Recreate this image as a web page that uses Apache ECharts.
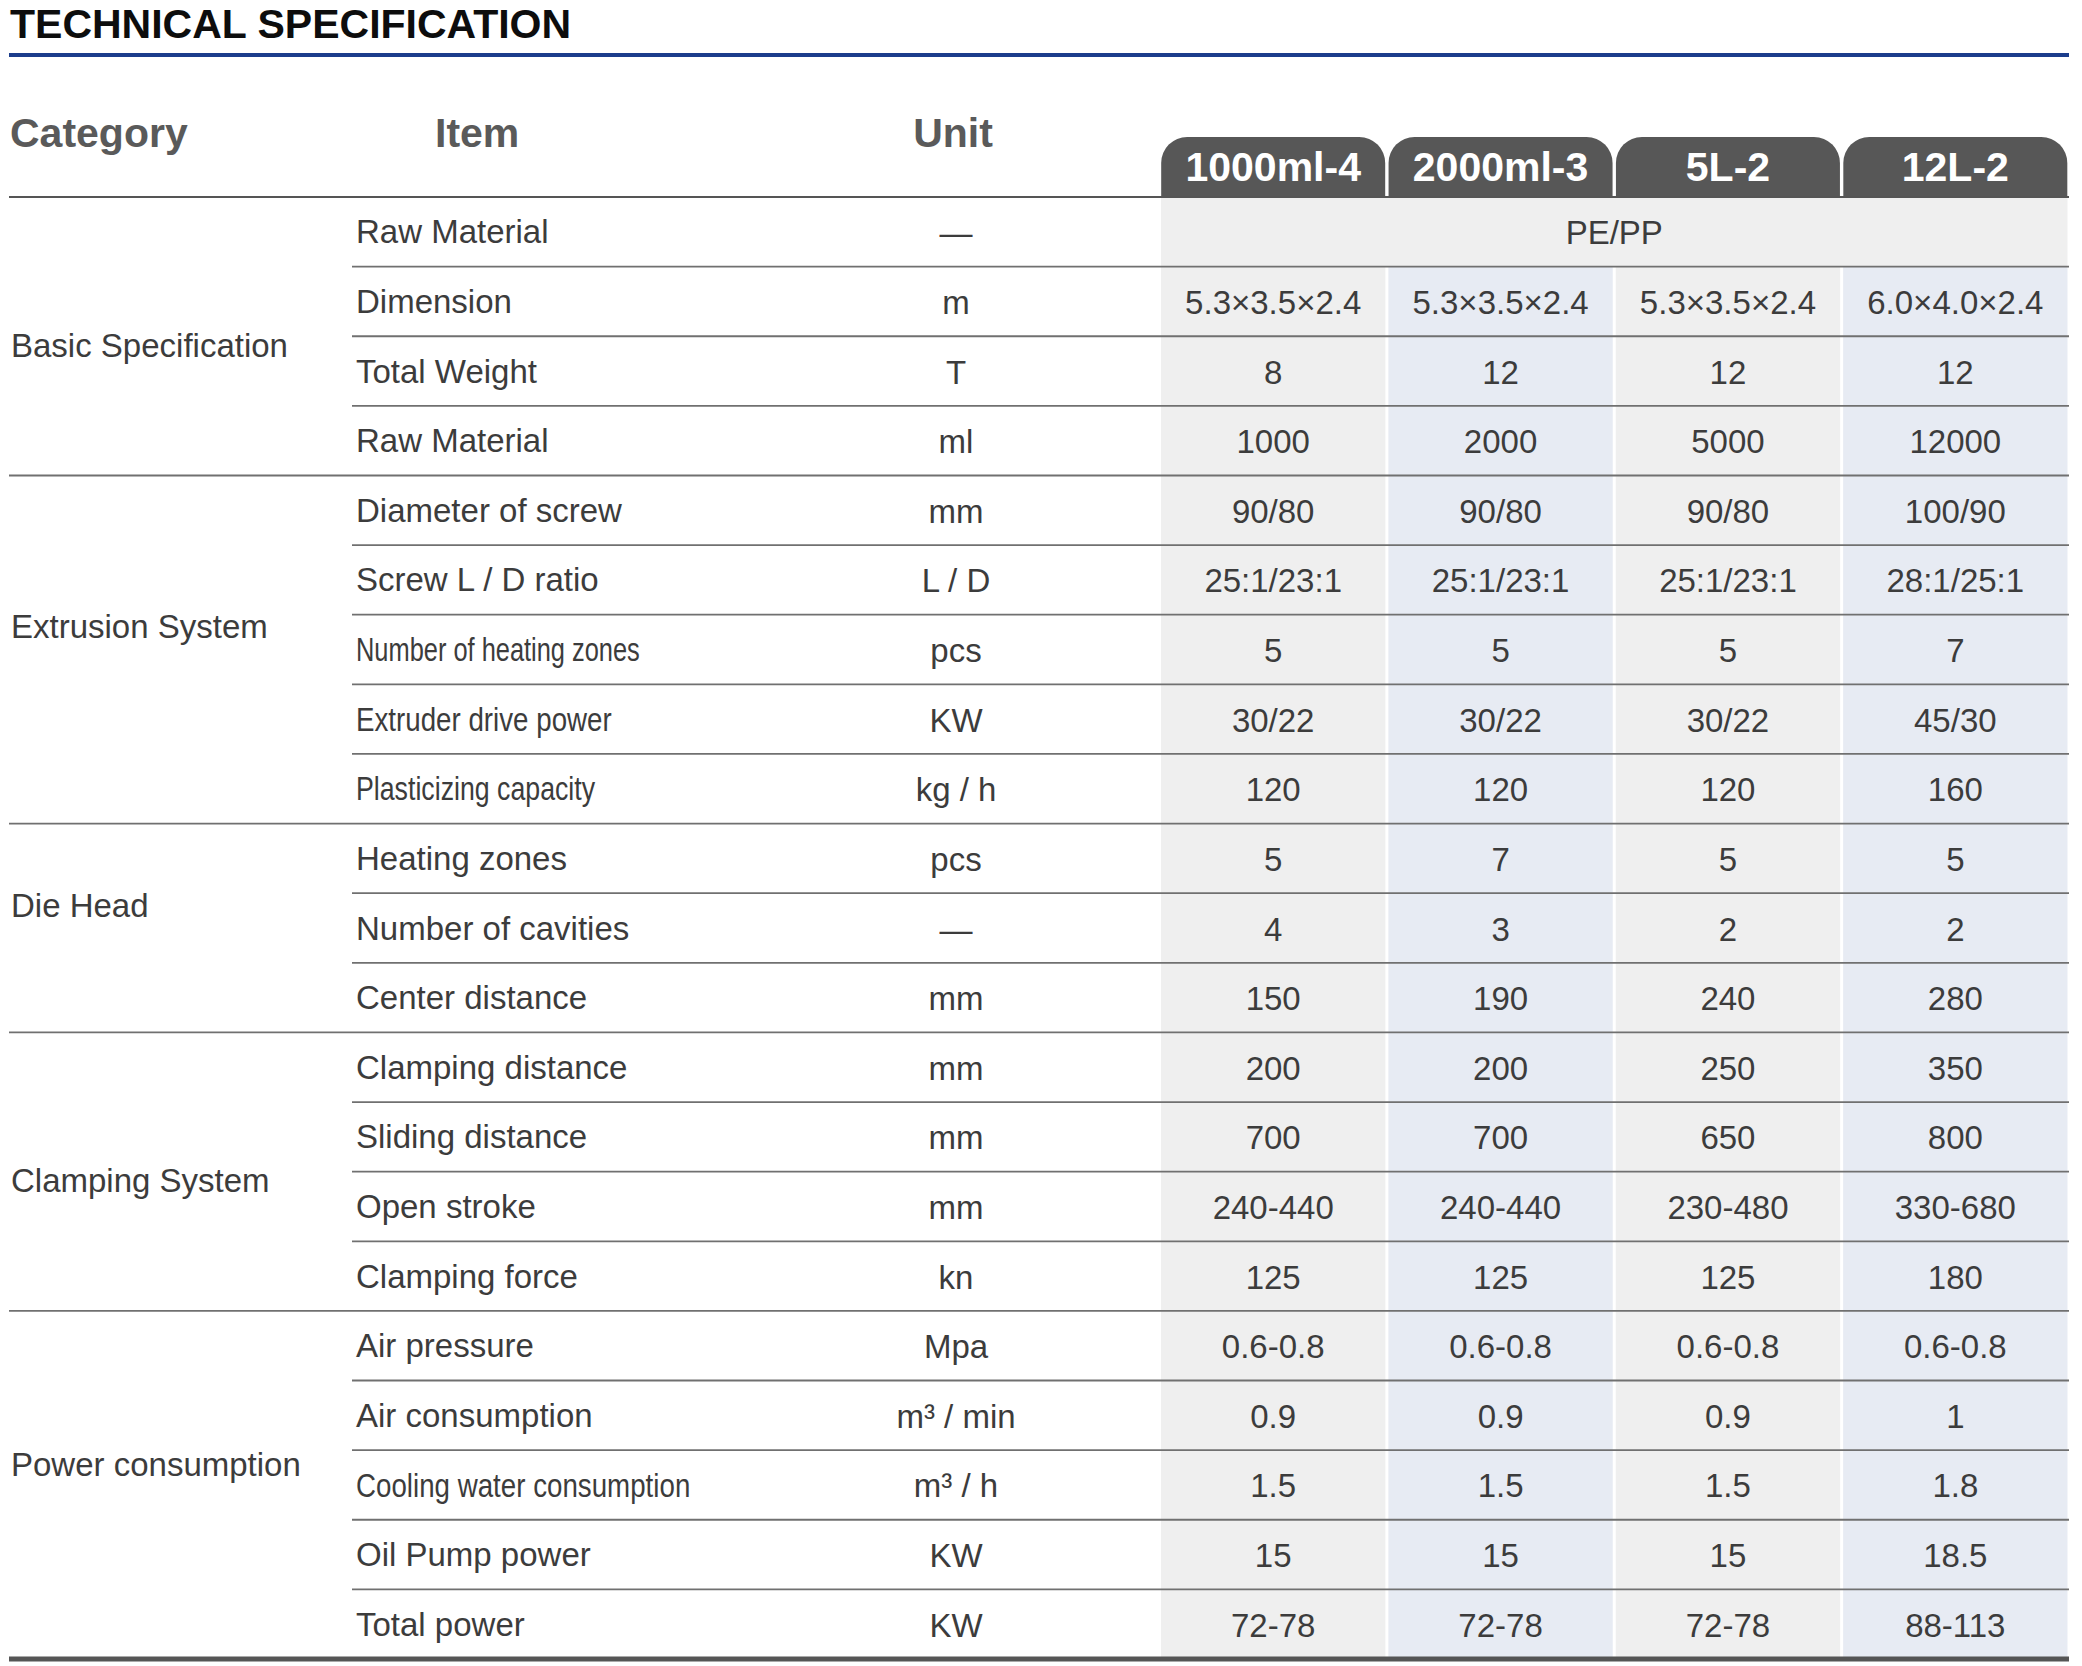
<!DOCTYPE html>
<html><head><meta charset="utf-8">
<script src="https://cdn.jsdelivr.net/npm/echarts@6/dist/echarts.min.js"></script>
<style>html,body{margin:0;padding:0;background:#fff}#main{width:2082px;height:1666px}</style>
</head><body><div id="main"></div>
<script>
// ---------- data ----------
const titleText = 'TECHNICAL SPECIFICATION';
const headerLabels = ['Category', 'Item', 'Unit'];
const models = ['1000ml-4', '2000ml-3', '5L-2', '12L-2'];
const categoryNames = ['Basic Specification', 'Extrusion System', 'Die Head', 'Clamping System', 'Power consumption'];
const categoryRowCounts = [4, 5, 3, 4, 5];
const items = ['Raw Material', 'Dimension', 'Total Weight', 'Raw Material', 'Diameter of screw', 'Screw L / D ratio',
  'Number of heating zones', 'Extruder drive power', 'Plasticizing capacity', 'Heating zones', 'Number of cavities',
  'Center distance', 'Clamping distance', 'Sliding distance', 'Open stroke', 'Clamping force', 'Air pressure',
  'Air consumption', 'Cooling water consumption', 'Oil Pump power', 'Total power'];
const units = ['—', 'm', 'T', 'ml', 'mm', 'L / D', 'pcs', 'KW', 'kg / h', 'pcs', '—', 'mm', 'mm', 'mm', 'mm', 'kn',
  'Mpa', 'm³ / min', 'm³ / h', 'KW', 'KW'];
const sharedRawMaterial = 'PE/PP';
const values1000ml4 = [null, '5.3×3.5×2.4', '8', '1000', '90/80', '25:1/23:1', '5', '30/22', '120', '5', '4', '150', '200', '700', '240-440', '125', '0.6-0.8', '0.9', '1.5', '15', '72-78'];
const values2000ml3 = [null, '5.3×3.5×2.4', '12', '2000', '90/80', '25:1/23:1', '5', '30/22', '120', '7', '3', '190', '200', '700', '240-440', '125', '0.6-0.8', '0.9', '1.5', '15', '72-78'];
const values5L2 = [null, '5.3×3.5×2.4', '12', '5000', '90/80', '25:1/23:1', '5', '30/22', '120', '5', '2', '240', '250', '650', '230-480', '125', '0.6-0.8', '0.9', '1.5', '15', '72-78'];
const values12L2 = [null, '6.0×4.0×2.4', '12', '12000', '100/90', '28:1/25:1', '7', '45/30', '160', '5', '2', '280', '350', '800', '330-680', '180', '0.6-0.8', '1', '1.8', '18.5', '88-113'];

// ---------- layout / style ----------
const FONT = '"Liberation Sans", Arial, Helvetica, sans-serif';
const TABLE_LEFT = 9, TABLE_RIGHT = 2069, ITEM_X = 356, UNIT_CX = 956;
const TEXT_COLOR = '#3c3c3c';
const LINE_COLOR = '#707070';
const BODY_FONT = '33px ' + FONT;
// condensed item labels (horizontal scale)
const narrowItemScale = { 'Number of heating zones': 0.77, 'Extruder drive power': 0.84, 'Plasticizing capacity': 0.81, 'Cooling water consumption': 0.84 };
// vertical nudge (px) of each category label from its group centre
const categoryLabelNudge = [9, -23, -23, 9, -20];

const valueColumns = [values1000ml4, values2000ml3, values5L2, values12L2];
const cellData = [];
for (let r = 0; r < items.length; r++) {
  if (r === 0) { cellData.push([0, r, sharedRawMaterial, models.length]); continue; }
  for (let c = 0; c < models.length; c++) cellData.push([c, r, valueColumns[c][r], 1]);
}
const rowData = items.map((d, i) => [0, i]);
const groupEnds = [];
const groupData = [];
{ let s = 0; categoryRowCounts.forEach((n) => { groupData.push([0, s, n]); s += n; groupEnds.push(s - 1); }); }

const chart = echarts.init(document.getElementById('main'), null, { renderer: 'svg' });

const option = {
  backgroundColor: '#fff',
  animation: false,
  grid: { left: 1159.5, top: 197, width: 909.5, height: 1462 },
  xAxis: {
    type: 'category', data: models, position: 'top',
    axisLine: { show: false }, axisTick: { show: false }, splitLine: { show: false },
    axisLabel: {
      interval: 0, margin: 0, color: '#fff', fontSize: 41, fontWeight: 'bold', fontFamily: FONT,
      backgroundColor: '#575757', borderRadius: [26, 26, 0, 0], width: 224, height: 60, lineHeight: 60,
      padding: 0, align: 'center'
    }
  },
  yAxis: { type: 'category', inverse: true, data: items.map((d, i) => String(i)), show: false },
  graphic: [
    { type: 'text', x: 10, y: 24, style: { text: titleText, font: 'bold 41px ' + FONT, fill: '#0d0d0d', verticalAlign: 'middle', align: 'left' } },
    { type: 'rect', shape: { x: TABLE_LEFT, y: 53, width: TABLE_RIGHT - TABLE_LEFT, height: 4 }, style: { fill: '#1c3d8c' } },
    { type: 'text', x: 10, y: 133, style: { text: headerLabels[0], font: 'bold 41px ' + FONT, fill: '#5a5a5a', verticalAlign: 'middle', align: 'left' } },
    { type: 'text', x: 435, y: 133, style: { text: headerLabels[1], font: 'bold 41px ' + FONT, fill: '#5a5a5a', verticalAlign: 'middle', align: 'left' } },
    { type: 'text', x: UNIT_CX - 3, y: 133, style: { text: headerLabels[2], font: 'bold 41px ' + FONT, fill: '#5a5a5a', verticalAlign: 'middle', align: 'center' } }
  ],
  series: [
    {
      type: 'custom', name: 'cells', data: cellData,
      renderItem: function (params, api) {
        const d = cellData[params.dataIndex];
        const c = d[0], r = d[1], span = d[3];
        const p = api.coord([c, r]);
        const s = api.size([1, 1]);
        const x0 = p[0] - s[0] / 2, y0 = p[1] - s[1] / 2, w = s[0] * span;
        const fill = span > 1 ? '#efefef' : (c % 2 === 0 ? '#efefef' : '#e7ebf3');
        return {
          type: 'group', children: [
            { type: 'rect', shape: { x: x0 + 1.5, y: y0, width: w - 3, height: s[1] }, style: { fill: fill } },
            { type: 'text', x: x0 + w / 2, y: p[1] + 1, style: { text: d[2], font: BODY_FONT, fill: TEXT_COLOR, align: 'center', verticalAlign: 'middle' } }
          ]
        };
      }
    },
    {
      type: 'custom', name: 'rows', data: rowData,
      renderItem: function (params, api) {
        const r = params.dataIndex;
        const p = api.coord([0, r]);
        const s = api.size([1, 1]);
        const yb = p[1] + s[1] / 2;
        const children = [];
        const isEnd = groupEnds.indexOf(r) >= 0;
        const last = r === items.length - 1;
        if (r === 0) {
          children.push({ type: 'line', shape: { x1: TABLE_LEFT, y1: p[1] - s[1] / 2, x2: TABLE_RIGHT, y2: p[1] - s[1] / 2 }, style: { stroke: '#555', lineWidth: 2 } });
        }
        children.push({
          type: 'line',
          shape: { x1: isEnd ? TABLE_LEFT : ITEM_X - 4, y1: yb, x2: TABLE_RIGHT, y2: yb },
          style: { stroke: last ? '#555' : LINE_COLOR, lineWidth: last ? 5 : 1.8 }
        });
        const sc = narrowItemScale[items[r]] || 1;
        children.push({ type: 'text', x: ITEM_X, y: p[1], scaleX: sc,
          style: { text: items[r], font: BODY_FONT, fill: TEXT_COLOR, align: 'left', verticalAlign: 'middle' } });
        children.push({ type: 'text', x: UNIT_CX, y: p[1] + 1,
          style: { text: units[r], font: BODY_FONT, fill: TEXT_COLOR, align: 'center', verticalAlign: 'middle' } });
        return { type: 'group', children: children };
      }
    },
    {
      type: 'custom', name: 'groups', data: groupData,
      renderItem: function (params, api) {
        const d = groupData[params.dataIndex];
        const p = api.coord([0, d[1]]);
        const s = api.size([1, 1]);
        const yc = p[1] - s[1] / 2 + s[1] * d[2] / 2 + categoryLabelNudge[params.dataIndex];
        return { type: 'text', x: TABLE_LEFT + 2, y: yc,
          style: { text: categoryNames[params.dataIndex], font: BODY_FONT, fill: TEXT_COLOR, align: 'left', verticalAlign: 'middle' } };
      }
    }
  ]
};
chart.setOption(option);
</script>
</body></html>
